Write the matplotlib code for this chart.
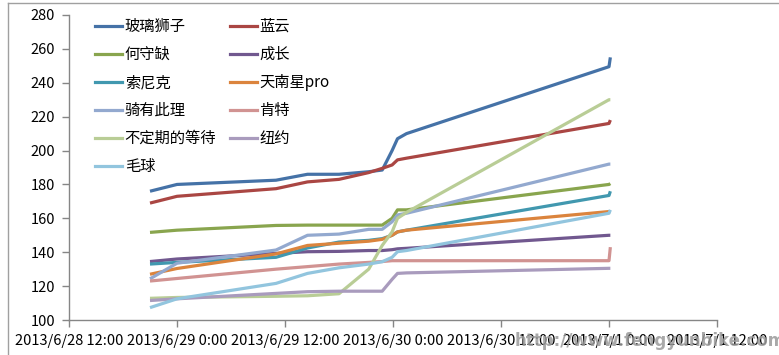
import pandas as pd
import matplotlib
matplotlib.use('Agg')
import matplotlib.pyplot as plt
from matplotlib.lines import Line2D

plt.rcParams['font.family'] = ['Noto Sans CJK SC', 'DejaVu Sans']

# ---- data ----
times = pd.to_datetime([
    "2013-06-28 21:00", "2013-06-29 00:00", "2013-06-29 11:00", "2013-06-29 14:30",
    "2013-06-29 18:00", "2013-06-29 21:18", "2013-06-29 22:48", "2013-06-29 23:54",
    "2013-06-30 00:30", "2013-06-30 01:30", "2013-07-01 00:00", "2013-07-01 00:09",
])

names = ["玻璃狮子", "蓝云", "何守缺", "成长", "索尼克", "天南星pro",
         "骑有此理", "肯特", "不定期的等待", "纽约", "毛球"]

boli   = [176, 180, 182.5, 186, 186, 187.5, 188.5, 200, 207, 210, 249.5, 255]
lanyun = [169, 173, 177.5, 181.5, 183, 187, 189.5, 191.5, 194.5, 195.5, 216, 218]
heshou = [151.7, 153, 155.8, 156, 156, 156, 156, 160, 165, 165, 180, 180.5]
cheng  = [134.5, 136, 139.3, 140.3, 140.5, 141, 141, 141.5, 142, 142.3, 150, 150]
suoni  = [133, 134, 137, 142.5, 146, 147, 148, 150, 152, 153, 173.5, 176]
tiannan = [127, 130.4, 139, 144, 145.3, 146.5, 147.6, 150, 152, 153, 164, 164]
qiyou  = [124.3, 133.5, 141.3, 150, 150.7, 153.5, 153.5, 158, 162, 163, 192, 192]
kente  = [123, 124.5, 130, 131.5, 133, 134, 134.5, 135, 135, 135, 135, 143]
budingqi = [112.8, 113.3, 114, 114.3, 115.5, 130, 144, 152, 160, 163.5, 230, 230]
niuyue = [111.5, 112.5, 115.7, 116.7, 117, 117, 117, 124, 127.5, 127.8, 130.5, 130.5]
maoqiu = [107.3, 112.5, 121.6, 127.5, 130.8, 133, 134.4, 137, 140.3, 141, 163, 165]

series = [boli, lanyun, heshou, cheng, suoni, tiannan,
          qiyou, kente, budingqi, niuyue, maoqiu]

colors = ["#4572A7", "#AA4643", "#89A54E", "#71588F", "#4198AF", "#DB843D",
          "#93A9CF", "#D19392", "#B9CD96", "#A99BBD", "#92C5DE"]

x_ticks = pd.date_range("2013-06-28 12:00", "2013-07-01 12:00", freq="12h")
x_labels = ["2013/6/28 12:00", "2013/6/29 0:00", "2013/6/29 12:00",
            "2013/6/30 0:00", "2013/6/30 12:00", "2013/7/1 0:00", "2013/7/1 12:00"]
y_ticks = list(range(100, 281, 20))

# ---- figure ----
fig = plt.figure(figsize=(7.79, 3.55), dpi=100)
ax = fig.add_axes([69 / 779, 1 - 320 / 355, 648 / 779, 305 / 355])

for vals, c in zip(series, colors):
    ax.plot(times, vals, color=c, linewidth=2.3, solid_joinstyle='round',
            solid_capstyle='butt')

ax.set_xlim(x_ticks[0], x_ticks[-1])
ax.set_ylim(100, 280)
ax.set_xticks(x_ticks)
ax.set_xticklabels(x_labels)
ax.set_yticks(y_ticks)

for side in ("top", "right"):
    ax.spines[side].set_visible(False)
for side in ("left", "bottom"):
    ax.spines[side].set_color("#868686")
    ax.spines[side].set_linewidth(1.0)
ax.tick_params(axis="both", direction="out", length=5, width=1.0,
               color="#868686", labelsize=10.5, pad=5)

# legend filled row by row (2 columns)
handles = [Line2D([], [], color=c, linewidth=2.3) for c in colors]
order = list(range(0, 11, 2)) + list(range(1, 11, 2))
ax.legend([handles[i] for i in order], [names[i] for i in order],
          ncol=2, loc="upper left", bbox_to_anchor=(0.04, 0.99),
          frameon=False, fontsize=11, handlelength=1.8, handletextpad=0.15,
          columnspacing=0.9, labelspacing=0.72, borderpad=0.0, borderaxespad=0.0)

# chart-area border (Excel style)
fig.add_artist(Line2D([7.5 / 779, 7.5 / 779], [0, 1 - 2.5 / 355],
                      transform=fig.transFigure, color="#A0A0A0", linewidth=1))
fig.add_artist(Line2D([7.5 / 779, 1], [1 - 2.5 / 355, 1 - 2.5 / 355],
                      transform=fig.transFigure, color="#A0A0A0", linewidth=1))

# watermark
fig.text(515 / 779, 1 - 341 / 355, "http://www.fengyunbike.com", fontsize=12,
         fontweight="bold", color="#9a9a9a", alpha=0.85, va="center", ha="left",
         family="DejaVu Sans")

fig.savefig("out.png", dpi=100)
